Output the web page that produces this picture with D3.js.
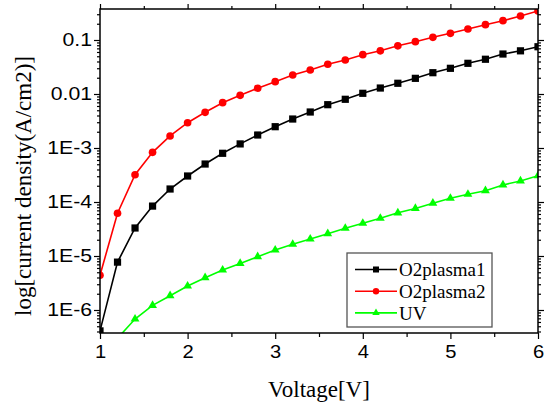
<!DOCTYPE html>
<html>
<head>
<meta charset="utf-8">
<script src="https://cdn.jsdelivr.net/npm/d3@7"></script>
<style>
  body { margin: 0; background: #fff; }
  svg { display: block; }
</style>
</head>
<body>
<div id="frame_div"></div>
<script>
// chart constants
const FRAME_WIDTH = 545;
const FRAME_HEIGHT = 405;
const MARGINS = {left: 100, right: 7, top: 9, bottom: 72};
const VIS_WIDTH = FRAME_WIDTH - MARGINS.left - MARGINS.right;
const VIS_HEIGHT = FRAME_HEIGHT - MARGINS.top - MARGINS.bottom;

// data
const voltage = [1.0, 1.2, 1.4, 1.6, 1.8, 2.0, 2.2, 2.4, 2.6, 2.8, 3.0, 3.2, 3.4,
                 3.6, 3.8, 4.0, 4.2, 4.4, 4.6, 4.8, 5.0, 5.2, 5.4, 5.6, 5.8, 6.0];
const o2plasma1 = [4.1e-7, 7.7e-6, 3.3e-5, 8.4e-5, 1.74e-4, 3.03e-4, 5.05e-4, 7.98e-4,
                   1.19e-3, 1.74e-3, 2.48e-3, 3.44e-3, 4.64e-3, 6.34e-3, 7.98e-3, 1.03e-2,
                   1.29e-2, 1.58e-2, 1.95e-2, 2.48e-2, 2.99e-2, 3.7e-2, 4.4e-2, 5.5e-2,
                   6.3e-2, 7.5e-2];
const o2plasma2 = [4.4e-6, 6.2e-5, 3.2e-4, 8.3e-4, 1.67e-3, 2.94e-3, 4.58e-3, 6.9e-3,
                   9.46e-3, 1.28e-2, 1.69e-2, 2.25e-2, 2.78e-2, 3.55e-2, 4.27e-2, 5.35e-2,
                   6.3e-2, 7.8e-2, 9.3e-2, 0.112, 0.133, 0.16, 0.192, 0.228, 0.278, 0.344];
const uv = [1.2e-7, 3.0e-7, 6.8e-7, 1.22e-6, 1.84e-6, 2.78e-6, 3.96e-6, 5.5e-6,
            7.3e-6, 9.7e-6, 1.29e-5, 1.65e-5, 2.06e-5, 2.59e-5, 3.26e-5, 4.03e-5,
            4.99e-5, 6.3e-5, 7.6e-5, 9.5e-5, 1.17e-4, 1.39e-4, 1.62e-4, 2.07e-4,
            2.45e-4, 3.07e-4];

const seriesNames = ["O2plasma1", "O2plasma2", "UV"];
const xTicks = [1, 2, 3, 4, 5, 6];
const xMinorTicks = [1.5, 2.5, 3.5, 4.5, 5.5];
const yTicks = [1e-6, 1e-5, 1e-4, 1e-3, 1e-2, 1e-1];
const yTickLabels = ["1E-6", "1E-5", "1E-4", "1E-3", "0.01", "0.1"];

const series = [
  {name: seriesNames[0], values: o2plasma1, color: "#000000", symbol: d3.symbolSquare, size: 52},
  {name: seriesNames[1], values: o2plasma2, color: "#ff0000", symbol: d3.symbolCircle, size: 46},
  {name: seriesNames[2], values: uv, color: "#00ff00", symbol: d3.symbolTriangle, size: 34}
];

const FRAME = d3.select("#frame_div")
  .append("svg")
    .attr("width", FRAME_WIDTH)
    .attr("height", FRAME_HEIGHT);

// scales
const X_SCALE = d3.scaleLinear().domain([1, 6]).range([0, VIS_WIDTH]);
const Y_SCALE = d3.scaleLog().domain([3.75e-7, 0.375]).range([VIS_HEIGHT, 0]);

const G = FRAME.append("g")
  .attr("transform", `translate(${MARGINS.left},${MARGINS.top})`);

G.append("clipPath").attr("id", "clip")
  .append("rect").attr("width", VIS_WIDTH).attr("height", VIS_HEIGHT);

// minor log ticks between decades
const yMinor = Y_SCALE.ticks(60).filter(v => !yTicks.some(t => Math.abs(t - v) / t < 1e-6));

function styleAxis(sel) {
  sel.select(".domain").remove();
  sel.selectAll("line").attr("stroke", "#000").attr("stroke-width", 1.2);
  sel.selectAll("text")
    .attr("fill", "#000")
    .attr("font-family", "'Liberation Sans', Arial, sans-serif")
    .attr("font-size", 18);
}

// bottom axis
const xAxis = G.append("g").attr("transform", `translate(0,${VIS_HEIGHT})`)
  .call(d3.axisBottom(X_SCALE).tickValues(xTicks).tickSize(6).tickPadding(6)
        .tickFormat(d3.format("d")));
styleAxis(xAxis);
xAxis.selectAll("text").attr("transform", "scale(1.12,1)");
G.append("g").attr("transform", `translate(0,${VIS_HEIGHT})`)
  .call(d3.axisBottom(X_SCALE).tickValues(xMinorTicks).tickSize(4).tickFormat(""))
  .call(styleAxis);

// top axis (ticks only)
G.append("g").call(d3.axisTop(X_SCALE).tickValues(xTicks).tickSize(5).tickFormat(""))
  .call(styleAxis);
G.append("g").call(d3.axisTop(X_SCALE).tickValues(xMinorTicks).tickSize(3).tickFormat(""))
  .call(styleAxis);

// left axis
const yAxis = G.append("g")
  .call(d3.axisLeft(Y_SCALE).tickValues(yTicks).tickSize(6).tickPadding(3)
        .tickFormat((d, i) => yTickLabels[i]));
styleAxis(yAxis);
yAxis.selectAll("text")
  .attr("x", -8 / 1.18)
  .attr("transform", "scale(1.18,1)");
G.append("g").call(d3.axisLeft(Y_SCALE).tickValues(yMinor).tickSize(3).tickFormat(""))
  .call(styleAxis);

// right axis (ticks only)
G.append("g").attr("transform", `translate(${VIS_WIDTH},0)`)
  .call(d3.axisRight(Y_SCALE).tickValues(yTicks).tickSize(6).tickFormat(""))
  .call(styleAxis);
G.append("g").attr("transform", `translate(${VIS_WIDTH},0)`)
  .call(d3.axisRight(Y_SCALE).tickValues(yMinor).tickSize(3).tickFormat(""))
  .call(styleAxis);

// series lines and markers
const plot = G.append("g").attr("clip-path", "url(#clip)");
const line = d3.line()
  .x((d, i) => X_SCALE(voltage[i]))
  .y(d => Y_SCALE(d));

series.forEach(s => {
  plot.append("path")
    .datum(s.values)
    .attr("d", line)
    .attr("fill", "none")
    .attr("stroke", s.color)
    .attr("stroke-width", 1.6);
  plot.selectAll(null)
    .data(s.values)
    .enter()
    .append("path")
      .attr("d", d3.symbol().type(s.symbol).size(s.size))
      .attr("transform", (d, i) => `translate(${X_SCALE(voltage[i])},${Y_SCALE(d)})`)
      .attr("fill", s.color);
});

// plot frame
G.append("rect")
  .attr("width", VIS_WIDTH)
  .attr("height", VIS_HEIGHT)
  .attr("fill", "none")
  .attr("stroke", "#000")
  .attr("stroke-width", 1.5);

// axis titles
FRAME.append("text")
  .attr("x", MARGINS.left + VIS_WIDTH / 2)
  .attr("y", 397)
  .attr("text-anchor", "middle")
  .attr("font-family", "'Liberation Serif', 'Times New Roman', serif")
  .attr("font-size", 23)
  .text("Voltage[V]");

FRAME.append("text")
  .attr("transform", `translate(31,${MARGINS.top + 177}) rotate(-90)`)
  .attr("text-anchor", "middle")
  .attr("font-family", "'Liberation Serif', 'Times New Roman', serif")
  .attr("font-size", 23)
  .text("log[current density(A/cm2)]");

// legend
const LEG = FRAME.append("g").attr("transform", "translate(347,253)");
LEG.append("rect")
  .attr("width", 145)
  .attr("height", 74)
  .attr("fill", "#fff")
  .attr("stroke", "#555")
  .attr("stroke-width", 1.3);

const legendRows = LEG.selectAll("g.row")
  .data(series)
  .enter()
  .append("g")
    .attr("class", "row")
    .attr("transform", (d, i) => `translate(0,${16.5 + i * 21.7})`);

legendRows.append("line")
  .attr("x1", 8).attr("x2", 50)
  .attr("stroke", d => d.color)
  .attr("stroke-width", 1.6);
legendRows.append("path")
  .attr("d", d => d3.symbol().type(d.symbol).size(d.size * 0.7)())
  .attr("transform", "translate(29,0)")
  .attr("fill", d => d.color);
legendRows.append("text")
  .attr("x", 52)
  .attr("dy", "0.35em")
  .attr("font-family", "'Liberation Serif', 'Times New Roman', serif")
  .attr("font-size", 19)
  .text(d => d.name);
</script>
</body>
</html>
